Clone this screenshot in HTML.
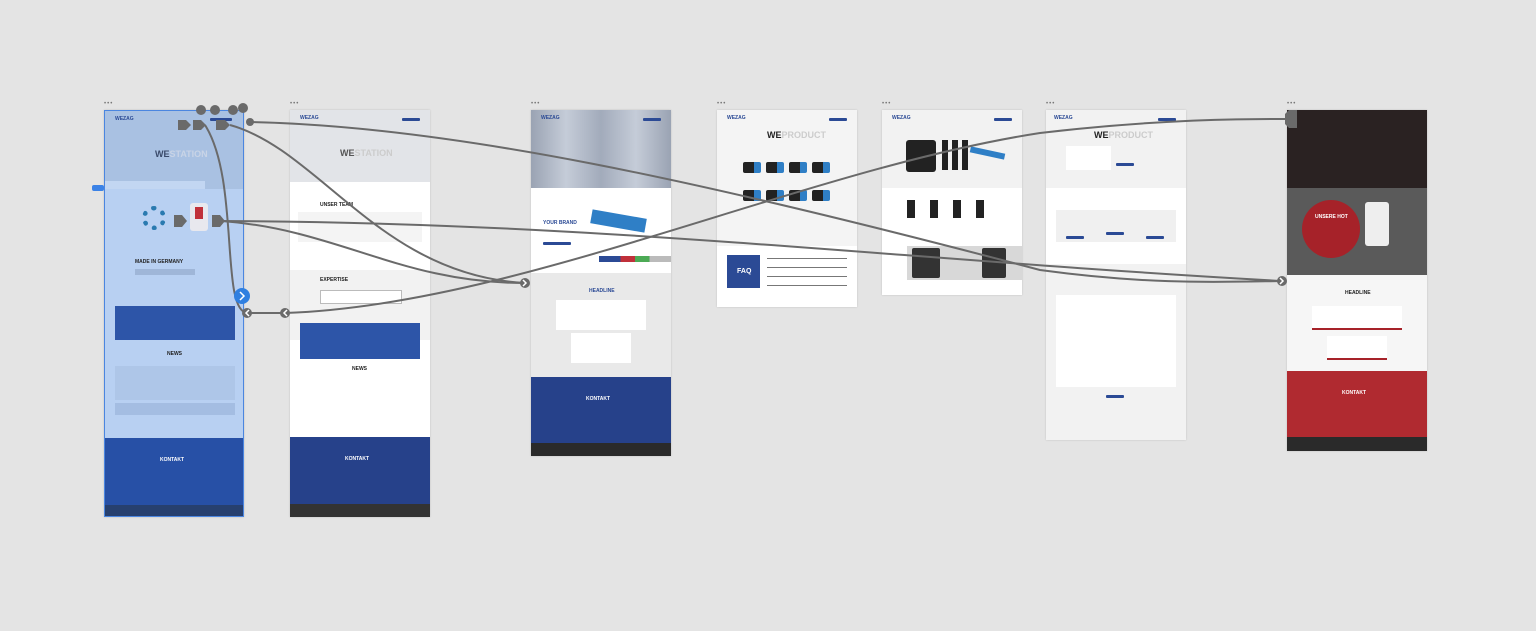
<!DOCTYPE html>
<html><head><meta charset="utf-8"><style>
*{margin:0;padding:0;box-sizing:border-box}
body{width:1536px;height:631px;background:#e4e4e4;position:relative;overflow:hidden;font-family:"Liberation Sans",sans-serif}
.a{position:absolute}
.f{position:absolute;background:#fff;overflow:hidden;box-shadow:0 0 2px rgba(0,0,0,.15)}
.dots{position:absolute;font-size:6px;color:#777;letter-spacing:1px}
.t{position:absolute;font-family:"Liberation Sans",sans-serif;font-weight:bold;font-size:5px;color:#222}
.nav{position:absolute;height:3px;border-radius:1px;background:#2b4a95}
.tool{position:absolute;width:18px;height:11px;background:linear-gradient(90deg,#222 60%,#2f7fc6 60%);border-radius:2px}
</style></head><body>

<div class="dots" style="left:104px;top:101px">•••</div>
<div class="dots" style="left:290px;top:101px">•••</div>
<div class="dots" style="left:531px;top:101px">•••</div>
<div class="dots" style="left:717px;top:101px">•••</div>
<div class="dots" style="left:882px;top:101px">•••</div>
<div class="dots" style="left:1046px;top:101px">•••</div>
<div class="dots" style="left:1287px;top:101px">•••</div>

<!-- Frame 1 -->
<div class="f" style="left:104px;top:110px;width:140px;height:407px;background:#b8d0f2;border:1px solid #4b86e0">
 <div class="a" style="left:0;top:0;width:140px;height:78px;background:#a9c1e2"></div>
 <div class="t" style="left:10px;top:5px;color:#2b4a95">WEZAG</div>
 <div class="nav" style="left:105px;top:7px;width:22px"></div>
 <div class="t" style="left:50px;top:38px;font-size:9px;color:#3a4a6a">WE<span style="color:#c9d4e6">STATION</span></div>
 <div class="a" style="left:0;top:70px;width:100px;height:8px;background:#c2d6f2"></div>
 <div class="a" style="left:37px;top:95px;width:24px;height:24px;border-radius:50%;border:5px dotted #2a7ab0"></div>
 <div class="a" style="left:85px;top:92px;width:18px;height:28px;background:#e8e8ee;border-radius:3px"></div>
 <div class="a" style="left:90px;top:96px;width:8px;height:12px;background:#c0303a"></div>
 <div class="t" style="left:30px;top:148px">MADE IN GERMANY</div>
 <div class="a" style="left:30px;top:158px;width:60px;height:6px;background:#9fb6d8"></div>
 <div class="a" style="left:10px;top:195px;width:120px;height:34px;background:#2d55a8"></div>
 <div class="t" style="left:62px;top:240px">NEWS</div>
 <div class="a" style="left:10px;top:255px;width:120px;height:34px;background:#aec6e8"></div>
 <div class="a" style="left:10px;top:292px;width:120px;height:12px;background:#a4bde2"></div>
 <div class="a" style="left:0;top:327px;width:140px;height:67px;background:#2750a6"></div>
 <div class="t" style="left:55px;top:346px;color:#fff">KONTAKT</div>
 <div class="a" style="left:0;top:394px;width:140px;height:13px;background:#27406f"></div>
</div>
<div class="a" style="left:92px;top:185px;width:12px;height:6px;background:#3b82e6;border-radius:2px"></div>

<!-- Frame 2 -->
<div class="f" style="left:290px;top:110px;width:140px;height:407px">
 <div class="a" style="left:0;top:0;width:140px;height:72px;background:#e2e4e8"></div>
 <div class="t" style="left:10px;top:5px;color:#2b4a95">WEZAG</div>
 <div class="nav" style="left:112px;top:8px;width:18px"></div>
 <div class="t" style="left:50px;top:38px;font-size:9px;color:#555">WE<span style="color:#ccc">STATION</span></div>
 <div class="t" style="left:30px;top:92px">UNSER TEAM</div>
 <div class="a" style="left:8px;top:102px;width:124px;height:30px;background:#f4f4f4"></div>
 <div class="a" style="left:0;top:160px;width:140px;height:70px;background:#f2f2f2"></div>
 <div class="t" style="left:30px;top:167px">EXPERTISE</div>
 <div class="a" style="left:30px;top:180px;width:82px;height:14px;border:1px solid #bbb;background:#fff"></div>
 <div class="a" style="left:10px;top:213px;width:120px;height:36px;background:#2d55a8"></div>
 <div class="t" style="left:62px;top:256px">NEWS</div>
 <div class="a" style="left:0;top:327px;width:140px;height:67px;background:#26418a"></div>
 <div class="t" style="left:55px;top:346px;color:#fff">KONTAKT</div>
 <div class="a" style="left:0;top:394px;width:140px;height:13px;background:#333"></div>
</div>

<!-- Frame 3 -->
<div class="f" style="left:531px;top:110px;width:140px;height:346px">
 <div class="a" style="left:0;top:0;width:140px;height:78px;background:linear-gradient(90deg,#9aa3b3,#c5ccd8,#a2abbb,#c5ccd8,#9aa3b3)"></div>
 <div class="t" style="left:10px;top:5px;color:#2b4a95">WEZAG</div>
 <div class="nav" style="left:112px;top:8px;width:18px"></div>
 <div class="a" style="left:60px;top:104px;width:55px;height:14px;background:#2f7fc6;transform:rotate(10deg)"></div>
 <div class="t" style="left:12px;top:110px;color:#2b4a95">YOUR BRAND</div>
 <div class="nav" style="left:12px;top:132px;width:28px"></div>
 <div class="a" style="left:68px;top:146px;width:72px;height:6px;background:linear-gradient(90deg,#2b4a95 30%,#c0303a 30% 50%,#4caa55 50% 70%,#bbb 70%)"></div>
 <div class="a" style="left:0;top:163px;width:140px;height:104px;background:#e9e9e9"></div>
 <div class="t" style="left:58px;top:178px;color:#2b4a95">HEADLINE</div>
 <div class="a" style="left:25px;top:190px;width:90px;height:30px;background:#fff"></div>
 <div class="a" style="left:40px;top:223px;width:60px;height:30px;background:#fff"></div>
 <div class="a" style="left:0;top:267px;width:140px;height:66px;background:#26418a"></div>
 <div class="t" style="left:55px;top:286px;color:#fff">KONTAKT</div>
 <div class="a" style="left:0;top:333px;width:140px;height:13px;background:#2a2a2a"></div>
</div>

<!-- Frame 4 -->
<div class="f" style="left:717px;top:110px;width:140px;height:197px;background:#f4f4f4">
 <div class="t" style="left:10px;top:5px;color:#2b4a95">WEZAG</div>
 <div class="nav" style="left:112px;top:8px;width:18px"></div>
 <div class="t" style="left:50px;top:20px;font-size:9px">WE<span style="color:#ccc">PRODUCT</span></div>
 <div class="tool" style="left:26px;top:52px"></div><div class="tool" style="left:49px;top:52px"></div><div class="tool" style="left:72px;top:52px"></div><div class="tool" style="left:95px;top:52px"></div>
 <div class="tool" style="left:26px;top:80px"></div><div class="tool" style="left:49px;top:80px"></div><div class="tool" style="left:72px;top:80px"></div><div class="tool" style="left:95px;top:80px"></div>
 <div class="a" style="left:0;top:136px;width:140px;height:61px;background:#fff"></div>
 <div class="a" style="left:10px;top:145px;width:33px;height:33px;background:#2b4a95"></div>
 <div class="t" style="left:20px;top:158px;color:#fff;font-size:7px">FAQ</div>
 <div class="a" style="left:50px;top:148px;width:80px;height:28px;background:repeating-linear-gradient(180deg,#777 0 1px,transparent 1px 9px)"></div>
</div>

<!-- Frame 5 -->
<div class="f" style="left:882px;top:110px;width:140px;height:185px">
 <div class="a" style="left:0;top:0;width:140px;height:78px;background:#f2f2f2"></div>
 <div class="t" style="left:10px;top:5px;color:#2b4a95">WEZAG</div>
 <div class="nav" style="left:112px;top:8px;width:18px"></div>
 <div class="a" style="left:24px;top:30px;width:30px;height:32px;background:#222;border-radius:3px"></div>
 <div class="a" style="left:60px;top:30px;width:30px;height:30px;background:repeating-linear-gradient(90deg,#222 0 6px,transparent 6px 10px)"></div>
 <div class="a" style="left:88px;top:40px;width:35px;height:6px;background:#2f7fc6;transform:rotate(12deg)"></div>
 <div class="a" style="left:25px;top:90px;width:90px;height:18px;background:repeating-linear-gradient(90deg,#222 0 8px,transparent 8px 23px)"></div>
 <div class="a" style="left:25px;top:136px;width:115px;height:34px;background:#d8d8d8"></div>
 <div class="a" style="left:30px;top:138px;width:28px;height:30px;background:#333;border-radius:2px"></div>
 <div class="a" style="left:100px;top:138px;width:24px;height:30px;background:#333;border-radius:2px"></div>
</div>

<!-- Frame 6 -->
<div class="f" style="left:1046px;top:110px;width:140px;height:330px;background:#f2f2f2">
 <div class="t" style="left:8px;top:5px;color:#2b4a95">WEZAG</div>
 <div class="nav" style="left:112px;top:8px;width:18px"></div>
 <div class="t" style="left:48px;top:20px;font-size:9px">WE<span style="color:#ccc">PRODUCT</span></div>
 <div class="a" style="left:20px;top:36px;width:45px;height:24px;background:#fff"></div>
 <div class="nav" style="left:70px;top:53px;width:18px"></div>
 <div class="a" style="left:0;top:78px;width:140px;height:76px;background:#fff"></div>
 <div class="a" style="left:10px;top:100px;width:120px;height:32px;background:#f0f0f0"></div>
 <div class="nav" style="left:20px;top:126px;width:18px"></div>
 <div class="nav" style="left:60px;top:122px;width:18px"></div>
 <div class="nav" style="left:100px;top:126px;width:18px"></div>
 <div class="a" style="left:10px;top:185px;width:120px;height:48px;background:#fff"></div>
 <div class="a" style="left:10px;top:232px;width:120px;height:45px;background:#fff"></div>
 <div class="nav" style="left:60px;top:285px;width:18px"></div>
</div>

<!-- Frame 7 -->
<div class="f" style="left:1287px;top:110px;width:140px;height:341px;background:#f6f6f6">
 <div class="a" style="left:0;top:0;width:140px;height:78px;background:#2a2222"></div>
 <div class="a" style="left:0;top:78px;width:140px;height:87px;background:#5a5a5a"></div>
 <div class="a" style="left:15px;top:90px;width:58px;height:58px;border-radius:50%;background:#a62229"></div>
 <div class="t" style="left:28px;top:104px;color:#fff">UNSERE HOT</div>
 <div class="a" style="left:78px;top:92px;width:24px;height:44px;background:#eee;border-radius:3px"></div>
 <div class="t" style="left:58px;top:180px">HEADLINE</div>
 <div class="a" style="left:25px;top:196px;width:90px;height:24px;background:#fff;border-bottom:2px solid #a62229"></div>
 <div class="a" style="left:40px;top:226px;width:60px;height:24px;background:#fff;border-bottom:2px solid #a62229"></div>
 <div class="a" style="left:0;top:261px;width:140px;height:66px;background:#b02a30"></div>
 <div class="t" style="left:55px;top:280px;color:#fff">KONTAKT</div>
 <div class="a" style="left:0;top:327px;width:140px;height:14px;background:#2a2a2a"></div>
</div>

<svg class="a" style="left:0;top:0" width="1536" height="631">
 <g fill="none" stroke="#6a6a6a" stroke-width="2">
  <path d="M250,122 C450,126 700,180 1040,270 C1150,285 1220,282 1282,281"/>
  <path d="M285,313 C520,305 800,170 1040,133 C1150,120 1230,119 1287,119"/>
  <path d="M218,221 C600,222 900,260 1282,281"/>
  <path d="M222,221 C340,230 400,283 525,283"/>
  <path d="M230,125 C320,150 380,275 525,283"/>
  <path d="M205,125 C240,180 220,310 247,313"/>
  <path d="M247,313 L285,313"/>
 </g>
 <g fill="#6a6a6a">
  <circle cx="201" cy="110" r="5"/><circle cx="215" cy="110" r="5"/><circle cx="233" cy="110" r="5"/><circle cx="243" cy="108" r="5"/>
  <path d="M178,120 h8 l5,5 l-5,5 h-8z"/><path d="M193,120 h8 l5,5 l-5,5 h-8z"/><path d="M216,120 h9 l5,5 l-5,5 h-9z"/>
  <circle cx="250" cy="122" r="4"/>
  <path d="M174,215 h8 l5,6 l-5,6 h-8z"/><path d="M212,215 h8 l5,6 l-5,6 h-8z"/>
  <circle cx="247" cy="313" r="5"/><circle cx="285" cy="313" r="5"/>
  <circle cx="525" cy="283" r="5"/><circle cx="1282" cy="281" r="5"/>
  <path d="M1285,114 l4,-4 h8 v18 h-8 l-4,-4z"/>
 </g>
 <circle cx="242" cy="296" r="8" fill="#2f7fe0"/>
 <g fill="none" stroke="#fff" stroke-width="1.5">
  <path d="M240,292 l4,4 l-4,4"/><path d="M249,310 l-3,3 l3,3"/><path d="M287,310 l-3,3 l3,3"/>
  <path d="M523,280 l3,3 l-3,3"/><path d="M1280,278 l3,3 l-3,3"/>
 </g>
</svg>
</body></html>
